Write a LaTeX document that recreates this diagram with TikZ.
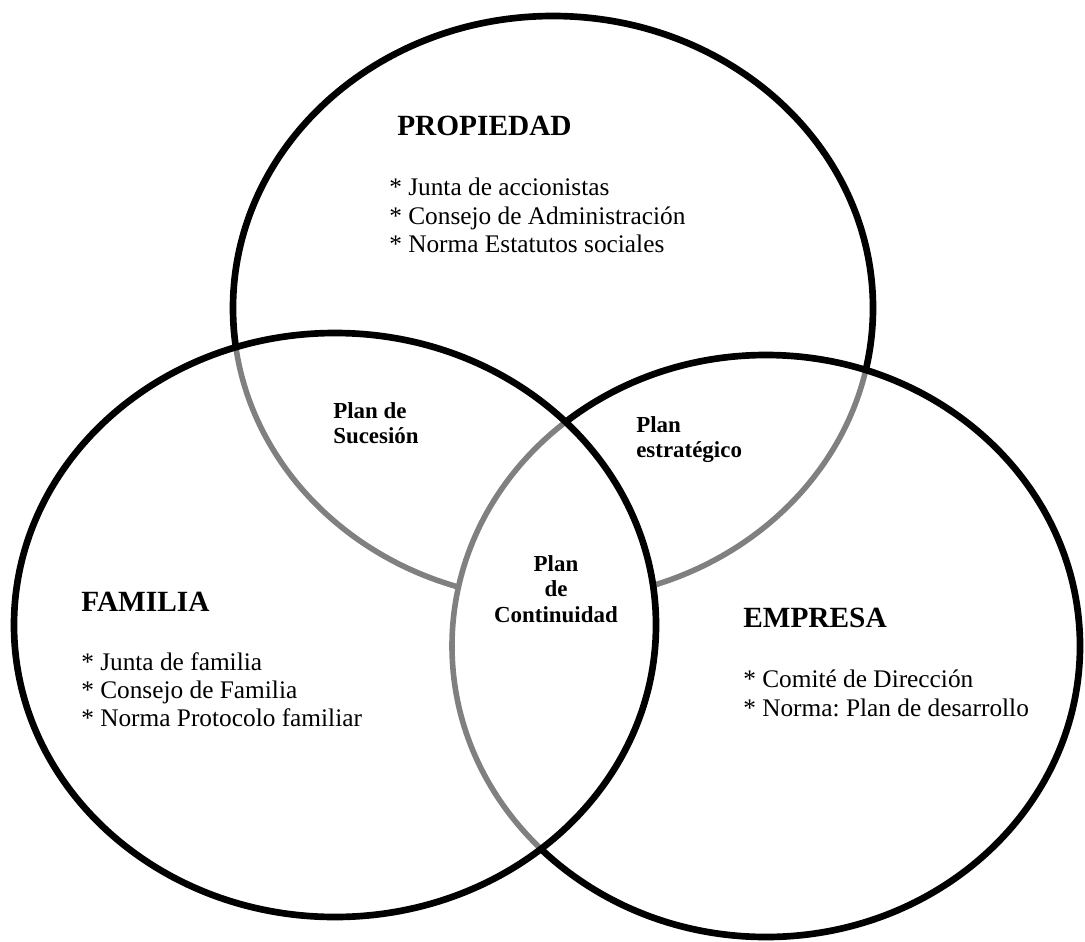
\documentclass[tikz,border=0pt]{standalone}
\usepackage{fontspec}
\setmainfont{Liberation Serif}
\frenchspacing
\begin{document}
\begin{tikzpicture}
  [x=0.75pt,y=-0.75pt,
   rim/.style={line width=5pt,color=black},
   inner rim/.style={line width=4.2pt,color=black!50},
   propiedad/.style={insert path={(553,308) ellipse [x radius=320,y radius=292]}},
   familia/.style={insert path={(335,625) ellipse [x radius=321,y radius=292]}},
   empresa/.style={insert path={(766,646) ellipse [x radius=314,y radius=291]}},
   title/.style={anchor=north west,inner sep=0pt,font=\fontsize{22}{24}\selectfont\bfseries},
   items/.style={anchor=north west,inner sep=0pt,align=left,font=\fontsize{19}{21.2}\selectfont},
   plan/.style={inner sep=0pt,font=\fontsize{17.2}{19.1}\selectfont\bfseries}]
  \useasboundingbox (0,0) rectangle (1085,942);

  % grey arcs inside the other rings
  \begin{scope}
    \clip[familia];
    \draw[inner rim,propiedad];
  \end{scope}
  \begin{scope}
    \clip[empresa];
    \draw[inner rim,propiedad];
  \end{scope}
  \begin{scope}
    \clip[familia];
    \fill[white,empresa];
    \draw[inner rim,empresa];
  \end{scope}

  % black outer rims
  \begin{scope}[even odd rule]
    \clip[familia] (0,0) rectangle (1085,942);
    \draw[rim,empresa];
    \clip[empresa] (0,0) rectangle (1085,942);
    \draw[rim,propiedad];
  \end{scope}
  \draw[rim,familia];

  \node[title] (propT) at (397,116) {PROPIEDAD};
  \node[items] (propL) at (389,178) {* Junta de accionistas\\* Consejo de Administración\\* Norma Estatutos sociales};
  \node[title] (famT) at (81,592) {FAMILIA};
  \node[items] (famL) at (81,652) {* Junta de familia\\* Consejo de Familia\\* Norma Protocolo familiar};
  \node[title] (empT) at (743,608) {EMPRESA};
  \node[items] (empL) at (743,670) {* Comité de Dirección\\* Norma: Plan de desarrollo};

  \node[plan,anchor=north west,align=left] (suc) at (333,402) {Plan de\\Sucesión};
  \node[plan,anchor=north west,align=left] (est) at (636,416) {Plan\\estratégico};
  \node[plan,anchor=north,align=center] (cont) at (556,555) {Plan\\de\\Continuidad};
\end{tikzpicture}
\end{document}
